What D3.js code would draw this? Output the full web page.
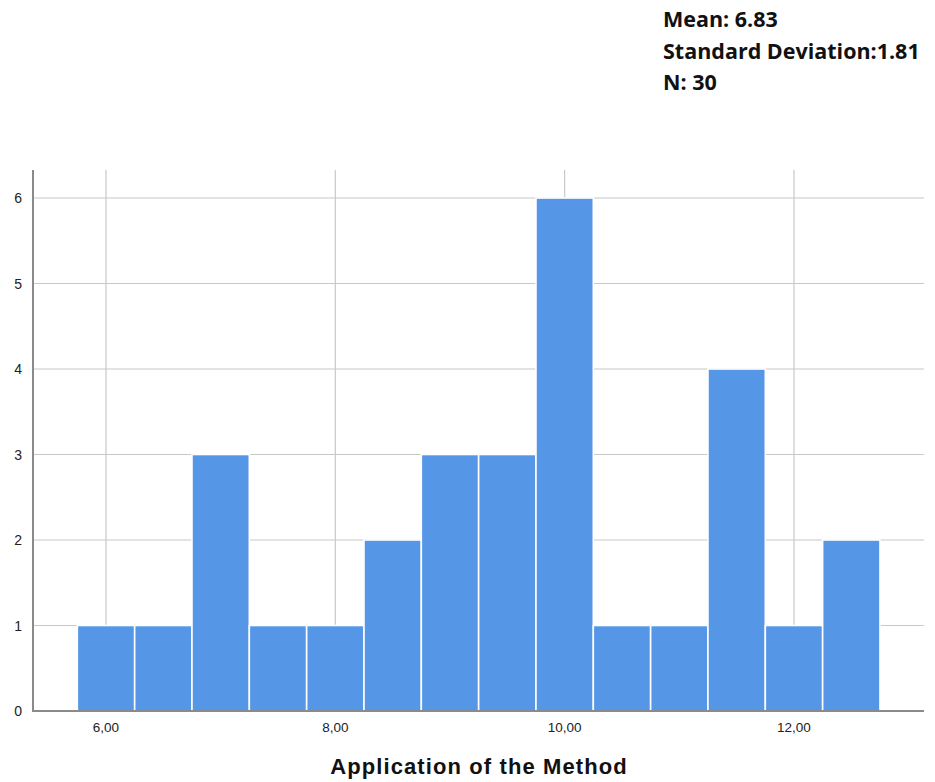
<!DOCTYPE html>
<html><head><meta charset="utf-8">
<script src="https://cdn.jsdelivr.net/npm/d3@7"></script>
<style>body{margin:0;background:#fff}svg{display:block}</style>
</head><body>
<svg id="c" width="935" height="782"></svg>
<script>
const binCenters = [6, 6.5, 7, 7.5, 8, 8.5, 9, 9.5, 10, 10.5, 11, 11.5, 12, 12.5];
const counts = [1, 1, 3, 1, 1, 2, 3, 3, 6, 1, 1, 4, 1, 2];
const binWidth = 0.5;
const xTicks = [6, 8, 10, 12];
const yTicks = [0, 1, 2, 3, 4, 5, 6];
const statLines = ["Mean: 6.83", "Standard Deviation:1.81", "N: 30"];
const xTitle = "Application of the Method";

const svg = d3.select("#c");
const L = 33, R = 924, B = 711, T = 170;
const x = d3.scaleLinear().domain([5.3634, 13.134]).range([L, R]);
const y = d3.scaleLinear().domain([0, 6]).range([B, 198]);

// gridlines
svg.append("g").selectAll("line").data(yTicks.filter(d => d > 0)).join("line")
  .attr("x1", L).attr("x2", R).attr("y1", d => y(d)).attr("y2", d => y(d))
  .attr("stroke", "#c8c8c8").attr("stroke-width", 1.2);
svg.append("g").selectAll("line").data(xTicks).join("line")
  .attr("x1", d => x(d)).attr("x2", d => x(d)).attr("y1", T).attr("y2", B)
  .attr("stroke", "#c8c8c8").attr("stroke-width", 1.2);

// bars
svg.append("g").selectAll("rect").data(binCenters).join("rect")
  .attr("x", (d) => x(d - binWidth / 2))
  .attr("width", (d) => x(d + binWidth / 2) - x(d - binWidth / 2))
  .attr("y", (d, i) => y(counts[i]))
  .attr("height", (d, i) => B - y(counts[i]))
  .attr("fill", "#5596e6")
  .attr("stroke", "#ffffff").attr("stroke-width", 1.6);

// axes lines
svg.append("line").attr("x1", L).attr("x2", L).attr("y1", T).attr("y2", B + 1)
  .attr("stroke", "#8a8a8a").attr("stroke-width", 2);
svg.append("line").attr("x1", L).attr("x2", R).attr("y1", B).attr("y2", B)
  .attr("stroke", "#8a8a8a").attr("stroke-width", 2);

// y tick labels
svg.append("g").selectAll("text").data(yTicks).join("text")
  .attr("x", 22).attr("y", d => y(d) + 5)
  .attr("text-anchor", "end")
  .attr("font-family", "Liberation Sans, Arial, sans-serif")
  .attr("font-size", 14).attr("fill", "#222")
  .text(d => d);

// x tick labels
svg.append("g").selectAll("text").data(xTicks).join("text")
  .attr("x", d => x(d)).attr("y", 732)
  .attr("text-anchor", "middle")
  .attr("font-family", "Liberation Sans, Arial, sans-serif")
  .attr("font-size", 13.5).attr("fill", "#222")
  .text(d => d.toFixed(2).replace(".", ","));

// x title
svg.append("text").attr("x", 479).attr("y", 774)
  .attr("text-anchor", "middle")
  .attr("font-family", "Liberation Sans, Arial, sans-serif")
  .attr("font-weight", "bold").attr("font-size", 22).attr("letter-spacing", 1.1).attr("fill", "#111")
  .text(xTitle);

// stats
svg.append("g").selectAll("text").data(statLines).join("text")
  .attr("x", 663).attr("y", (d, i) => 27 + i * 31.7)
  .attr("font-family", "Open Sans, Noto Sans, sans-serif")
  .attr("font-weight", "bold").attr("font-size", 21.5).attr("fill", "#111")
  .text(d => d);
</script>
</body></html>
